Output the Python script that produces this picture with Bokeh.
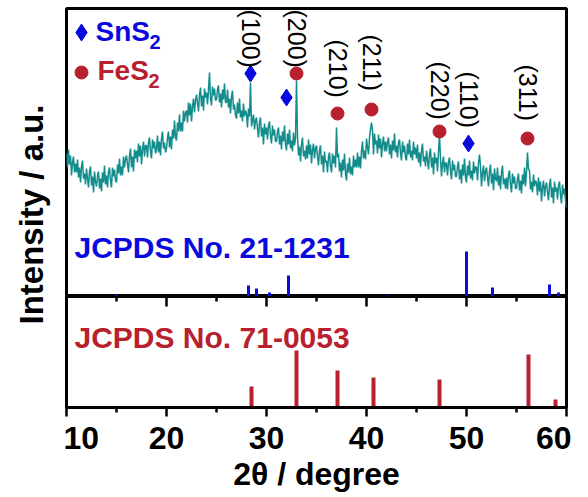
import numpy as np
from math import pi
from bokeh.plotting import figure
from bokeh.layouts import row, column
from bokeh.models import Range1d, LinearAxis, FixedTicker, CustomJSTickFormatter
from bokeh.core.properties import value
from bokeh.embed import file_html
from bokeh.resources import INLINE

# ---------------- data ----------------
two_theta = np.round(np.arange(10.0, 60.00001, 0.1), 1)
intensity = [
    143, 129, 147, 132, 141, 121, 134, 140, 124, 133,   # 10
    124, 137, 119, 129, 114, 130, 136, 118, 123, 112,   # 11
    128, 118, 109, 125, 130, 111, 120, 104, 125, 115,   # 12
    110, 120, 125, 108, 118, 105, 124, 114, 131, 112,   # 13
    121, 109, 125, 129, 116, 109, 129, 120, 127, 116,   # 14
    114, 132, 123, 138, 121, 130, 121, 140, 129, 137,   # 15
    141, 132, 124, 141, 148, 129, 140, 125, 147, 138,   # 16
    146, 134, 153, 140, 151, 132, 147, 155, 140, 151,   # 17
    151, 139, 154, 159, 145, 138, 157, 148, 155, 143,   # 18
    147, 161, 144, 155, 141, 158, 165, 148, 154, 144,   # 19
    148, 159, 165, 149, 160, 147, 167, 158, 176, 159,   # 20
    156, 174, 165, 182, 165, 174, 165, 186, 175, 184,   # 21
    186, 174, 194, 181, 193, 175, 190, 198, 184, 196,   # 22
    202, 193, 185, 202, 209, 190, 201, 186, 208, 199,   # 23
    204, 192, 207, 224, 198, 191, 210, 201, 208, 196,   # 24
    197, 207, 211, 194, 203, 189, 207, 197, 213, 194,   # 25
    194, 207, 189, 198, 183, 200, 206, 187, 192, 181,   # 26
    178, 194, 183, 198, 179, 186, 175, 193, 180, 186,   # 27
    183, 169, 188, 180, 214, 170, 176, 182, 167, 176,   # 28
    179, 168, 159, 174, 179, 160, 169, 152, 173, 162,   # 29
    169, 157, 171, 175, 160, 153, 171, 161, 167, 155,   # 30
    155, 165, 169, 152, 161, 147, 165, 155, 171, 152,   # 31
    146, 163, 152, 167, 148, 156, 145, 164, 151, 158,   # 32
    216, 160, 141, 150, 135, 152, 159, 140, 146, 137,   # 33
    151, 138, 157, 142, 152, 133, 147, 153, 138, 148,   # 34
    151, 140, 131, 146, 151, 132, 141, 124, 145, 134,   # 35
    136, 124, 140, 144, 130, 124, 143, 133, 141, 129,   # 36
    169, 139, 143, 125, 134, 119, 137, 126, 143, 123,   # 37
    116, 133, 124, 139, 122, 130, 121, 141, 129, 137,   # 38
    129, 144, 129, 140, 128, 146, 155, 138, 146, 137,   # 39
    158, 149, 142, 159, 167, 174, 166, 142, 163, 152,   # 40
    156, 143, 162, 148, 158, 139, 153, 160, 145, 155,   # 41
    145, 155, 159, 142, 152, 138, 156, 146, 163, 144,   # 42
    151, 139, 154, 157, 143, 136, 155, 144, 151, 139,   # 43
    136, 153, 142, 157, 139, 146, 136, 155, 142, 149,   # 44
    138, 152, 134, 144, 130, 146, 153, 135, 140, 130,   # 45
    146, 136, 127, 143, 148, 129, 139, 122, 144, 133,   # 46
    139, 125, 145, 161, 138, 120, 133, 140, 124, 134,   # 47
    133, 121, 135, 139, 125, 117, 136, 126, 132, 120,   # 48
    120, 130, 135, 117, 127, 113, 132, 121, 138, 119,   # 49
    114, 131, 121, 136, 118, 126, 116, 135, 123, 130,   # 50
    129, 116, 134, 142, 130, 110, 124, 131, 115, 125,   # 51
    129, 119, 110, 126, 132, 113, 123, 106, 128, 118,   # 52
    115, 129, 111, 121, 107, 124, 131, 112, 118, 108,   # 53
    119, 107, 122, 126, 112, 104, 123, 113, 120, 108,   # 54
    108, 118, 123, 106, 116, 103, 122, 112, 129, 110,   # 55
    125, 144, 127, 126, 107, 115, 104, 122, 110, 116,   # 56
    114, 101, 119, 105, 115, 95, 109, 116, 100, 110,    # 57
    114, 104, 96, 112, 118, 99, 109, 93, 115, 105,      # 58
    109, 97, 111, 115, 101, 93, 112, 102, 108, 96,      # 59
    88,                                                 # 60
]
assert len(intensity) == len(two_theta), (len(intensity), len(two_theta))

# reference pattern SnS2 (JCPDS 21-1231)
sns2_pos = [15.0, 28.2, 29.0, 30.3, 32.2, 42.1, 50.0, 52.6, 58.3, 59.2]
sns2_int = [2, 11, 8, 4, 21, 1, 45, 9, 12, 4]
# reference pattern FeS2 (JCPDS 71-0053)
fes2_pos = [28.5, 33.0, 37.1, 40.7, 47.3, 56.2, 58.9]
fes2_int = [21, 57, 37, 30, 28, 53, 8]

# peak markers on the measured pattern
sns2_mark_x = [28.4, 32.0, 50.2]
sns2_mark_y = [223, 199, 153]
fes2_mark_x = [33.0, 37.1, 40.5, 47.3, 56.1]
fes2_mark_y = [223, 183, 187, 165, 158]

hkl_text = ["(100)", "(200)", "(210)", "(211)", "(220)", "(110)", "(311)"]
hkl_x = [28.4, 33.0, 37.1, 40.5, 47.3, 50.2, 56.1]
hkl_y = [287, 287, 257, 262, 235, 225, 232]

x_major = [10, 20, 30, 40, 50, 60]
x_minor = [15, 25, 35, 45, 55]

TEAL = "#138c8c"
BLUE = "#0a0ade"
RED = "#b8202e"
FONT = value("Liberation Sans")

xr = Range1d(10, 60)

# ---------------- top panel ----------------
top = figure(frame_width=500, frame_height=288, x_range=xr, y_range=Range1d(0, 288),
             toolbar_location=None, output_backend="svg",
             x_axis_location=None, y_axis_location=None,
             min_border_left=3, min_border_right=5, min_border_top=8, min_border_bottom=0)
top.grid.visible = False
top.outline_line_color = "black"
top.outline_line_width = 3

top.line(two_theta, intensity, line_color=TEAL, line_width=1.5)
top.segment(x0=sns2_pos, y0=[0] * len(sns2_pos), x1=sns2_pos, y1=sns2_int,
            line_color=BLUE, line_width=3)

top.scatter(sns2_mark_x, sns2_mark_y, marker="diamond", size=17, color=BLUE)
top.scatter(fes2_mark_x, fes2_mark_y, marker="circle", size=13, color=RED)
top.text(hkl_x, hkl_y, text=hkl_text, angle=-pi / 2, text_align="left",
         text_baseline="middle", text_font=FONT, text_font_size="25px", text_color="black")

# legend
top.scatter([11.5], [264], marker="diamond", size=17, color=BLUE)
top.scatter([11.5], [224], marker="circle", size=13, color=RED)
top.text([12.9], [265], text=["SnS"], text_font=FONT, text_font_size="28px",
         text_font_style="bold", text_color=BLUE, text_baseline="alphabetic")
top.text([18.3], [255], text=["2"], text_font=FONT, text_font_size="20px",
         text_font_style="bold", text_color=BLUE, text_baseline="alphabetic")
top.text([13.1], [226], text=["FeS"], text_font=FONT, text_font_size="28px",
         text_font_style="bold", text_color=RED, text_baseline="alphabetic")
top.text([18.2], [216], text=["2"], text_font=FONT, text_font_size="20px",
         text_font_style="bold", text_color=RED, text_baseline="alphabetic")
top.text([10.8], [49], text=["JCPDS No. 21-1231"], text_font=FONT, text_font_size="30px",
         text_font_style="bold", text_color=BLUE, text_baseline="alphabetic")

# ---------------- bottom panel ----------------
bot = figure(frame_width=500, frame_height=111, x_range=xr, y_range=Range1d(0, 111),
             toolbar_location=None, output_backend="svg",
             x_axis_location="below", y_axis_location=None,
             min_border_left=3, min_border_right=5, min_border_top=0, min_border_bottom=0)
bot.grid.visible = False
bot.outline_line_color = "black"
bot.outline_line_width = 3

ax = bot.xaxis[0]
ax.ticker = FixedTicker(ticks=x_major, minor_ticks=x_minor)
ax.axis_line_width = 3
ax.major_tick_line_width = 2.5
ax.minor_tick_line_width = 2.5
ax.major_tick_out = 9
ax.major_tick_in = 0
ax.minor_tick_out = 5
ax.minor_tick_in = 0
ax.major_label_standoff = 10
ax.major_label_text_font = "Liberation Sans"
ax.major_label_text_font_style = "bold"
ax.major_label_text_font_size = "32px"
ax.major_label_text_color = "black"
ax.axis_label = "2θ / degree"
ax.axis_label_standoff = 4
ax.axis_label_text_font = "Liberation Sans"
ax.axis_label_text_font_style = "bold"
ax.axis_label_text_font_size = "32px"
ax.axis_label_text_color = "black"

mid = LinearAxis(ticker=FixedTicker(ticks=x_major, minor_ticks=x_minor),
                 formatter=CustomJSTickFormatter(code="return ''"),
                 major_tick_in=10, major_tick_out=0, minor_tick_in=5, minor_tick_out=0,
                 major_tick_line_width=2.5, minor_tick_line_width=2.5,
                 axis_line_width=3, major_label_text_font_size="1px", major_label_standoff=0)
bot.add_layout(mid, "above")

bot.segment(x0=fes2_pos, y0=[0] * len(fes2_pos), x1=fes2_pos, y1=fes2_int,
            line_color=RED, line_width=4)
bot.text([10.8], [70], text=["JCPDS No. 71-0053"], text_font=FONT, text_font_size="30px",
         text_font_style="bold", text_color=RED, text_baseline="alphabetic")

# ---------------- y label ----------------
lab = figure(width=63, height=490, x_range=Range1d(0, 63), y_range=Range1d(0, 490),
             toolbar_location=None, output_backend="svg",
             x_axis_location=None, y_axis_location=None, min_border=0)
lab.grid.visible = False
lab.outline_line_color = None
lab.text([31], [490 - 214], text=["Intensity / a.u."], angle=pi / 2, text_align="center",
         text_baseline="middle", text_font=FONT, text_font_size="33px",
         text_font_style="bold", text_color="black")

layout = row(lab, column(top, bot, spacing=0), spacing=0)
open("out.html", "w").write(file_html(layout, INLINE))
